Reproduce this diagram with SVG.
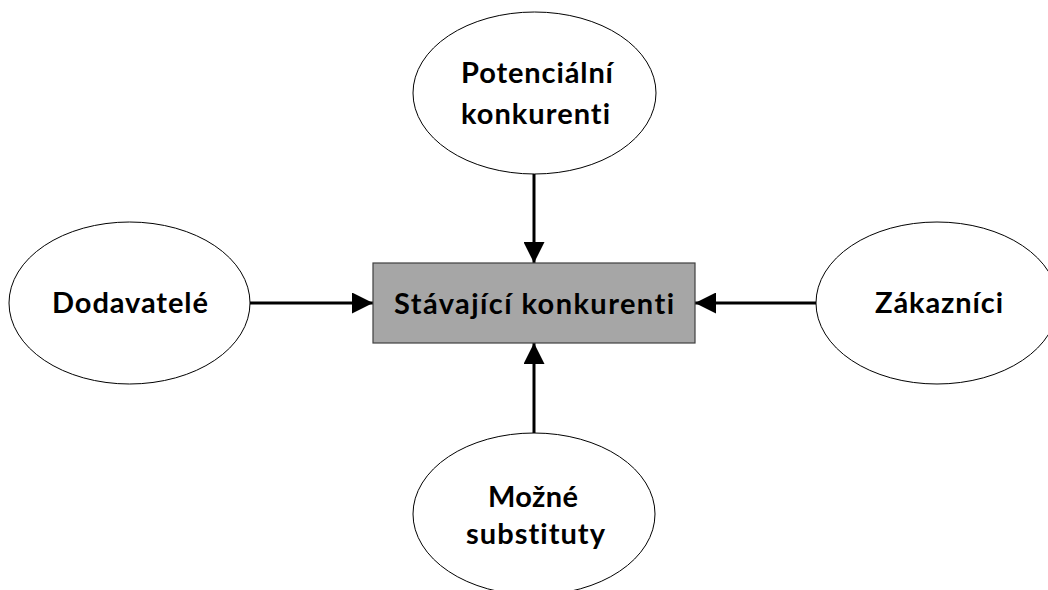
<svg xmlns="http://www.w3.org/2000/svg" width="1048" height="590" viewBox="0 0 1048 590">
<style>
.node{fill:#ffffff;stroke:#000000;stroke-width:1}
.box{fill:#a6a6a6;stroke:#404040;stroke-width:1.2}
.lbl{font-family:Lato,"Open Sans","Liberation Sans",sans-serif;font-weight:bold;font-size:29px;fill:#000000;text-anchor:middle;font-variant-ligatures:none;font-feature-settings:"liga" 0,"clig" 0,"dlig" 0}
.conn{stroke:#000000;stroke-width:3;fill:none}
</style>
<defs>
<marker id="arr" viewBox="0 0 10 10" refX="10" refY="5" markerWidth="7" markerHeight="7" markerUnits="strokeWidth" orient="auto">
<path d="M0,0 L10,5 L0,10 z" fill="#000000"/>
</marker>
</defs>
<g id="connectors">
<line class="conn" x1="534" y1="174" x2="534" y2="263" marker-end="url(#arr)"/>
<line class="conn" x1="250" y1="303" x2="373" y2="303" marker-end="url(#arr)"/>
<line class="conn" x1="816" y1="303" x2="695" y2="303" marker-end="url(#arr)"/>
<line class="conn" x1="534" y1="433" x2="534" y2="343" marker-end="url(#arr)"/>
</g>
<g id="stavajici">
<rect class="box" x="373" y="263" width="322" height="80"/>
<text class="lbl" x="534" y="314" textLength="280" lengthAdjust="spacing">Stávající konkurenti</text>
</g>
<g id="potencialni">
<ellipse class="node" cx="534.5" cy="93" rx="121.5" ry="81"/>
<text class="lbl" x="537" y="83" textLength="152" lengthAdjust="spacing">Potenciální</text>
<text class="lbl" x="535.5" y="124" textLength="149" lengthAdjust="spacing">konkurenti</text>
</g>
<g id="dodavatele">
<ellipse class="node" cx="129.5" cy="303" rx="120.5" ry="81"/>
<text class="lbl" x="130" y="313" textLength="156" lengthAdjust="spacing">Dodavatelé</text>
</g>
<g id="zakaznici">
<ellipse class="node" cx="937" cy="303" rx="121" ry="81"/>
<text class="lbl" x="939" y="313" textLength="128" lengthAdjust="spacing">Zákazníci</text>
</g>
<g id="substituty">
<ellipse class="node" cx="534" cy="514" rx="121" ry="81"/>
<text class="lbl" x="533" y="507" textLength="90" lengthAdjust="spacing">Možné</text>
<text class="lbl" x="535.5" y="544" textLength="139" lengthAdjust="spacing">substituty</text>
</g>
</svg>
